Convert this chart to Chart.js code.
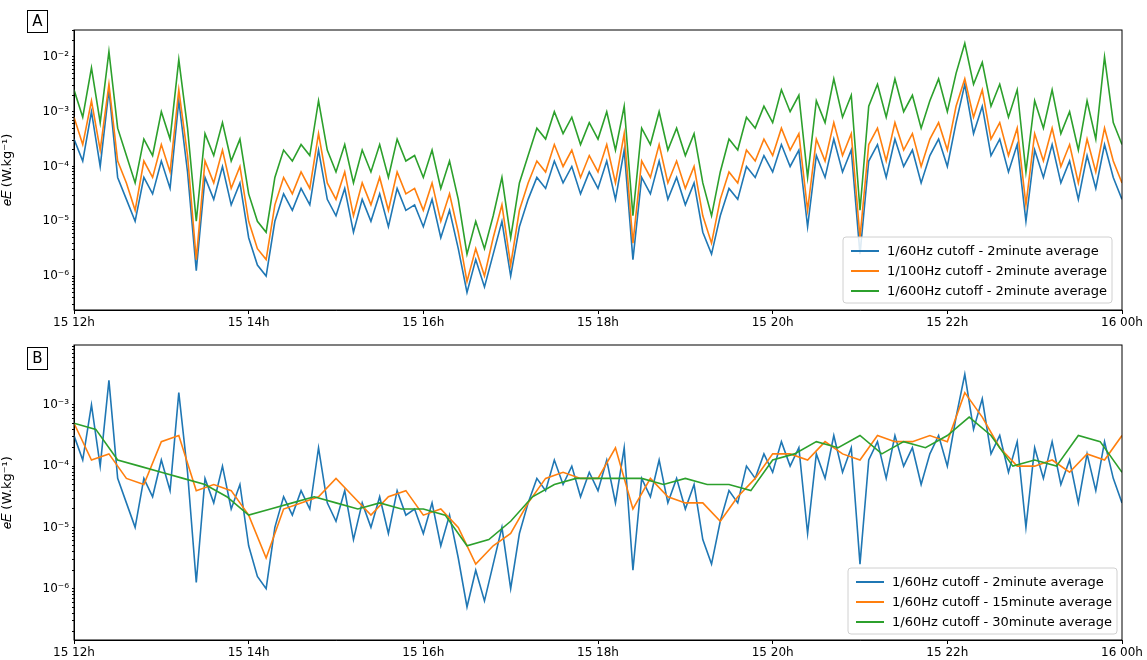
<!DOCTYPE html>
<html>
<head>
<meta charset="utf-8">
<script src="https://cdn.jsdelivr.net/npm/chart.js@4/dist/chart.umd.min.js"></script>
<style>
  body { margin: 0; background: #fff; }
  .panel { position: absolute; left: 0; width: 1147px; height: 330px; }
</style>
</head>
<body>
<div class="panel" style="top:0"><canvas id="chartA" width="1147" height="330"></canvas></div>
<div class="panel" style="top:330px"><canvas id="chartB" width="1147" height="330"></canvas></div>
<script>
// Hours of day (15 12h .. 16 00h)
const xTickHours = [12, 14, 16, 18, 20, 22, 24];
const xTickLabels = ['15 12h', '15 14h', '15 16h', '15 18h', '15 20h', '15 22h', '16 00h'];

// log10 of e_E, 2-minute series sampled every 0.1 h from 12h
const blue60Log = [
  -3.5,-3.9,-3.0,-4.0,-2.6,-4.2,-4.6,-5.0,-4.2,-4.5,
  -3.9,-4.4,-2.8,-4.1,-5.9,-4.2,-4.6,-4.0,-4.7,-4.3,
  -5.3,-5.8,-6.0,-5.0,-4.5,-4.8,-4.4,-4.7,-3.7,-4.6,
  -4.9,-4.4,-5.2,-4.6,-5.0,-4.5,-5.1,-4.4,-4.8,-4.7,
  -5.1,-4.6,-5.3,-4.8,-5.5,-6.3,-5.7,-6.2,-5.6,-5.0,
  -6.0,-5.1,-4.6,-4.2,-4.4,-3.9,-4.3,-4.0,-4.5,-4.1,
  -4.4,-3.9,-4.6,-3.7,-5.7,-4.2,-4.5,-3.9,-4.6,-4.2,
  -4.7,-4.3,-5.2,-5.6,-4.9,-4.4,-4.6,-4.0,-4.2,-3.8,
  -4.1,-3.6,-4.0,-3.7,-5.1,-3.8,-4.2,-3.5,-4.1,-3.7,
  -5.6,-3.9,-3.6,-4.2,-3.5,-4.0,-3.7,-4.3,-3.8,-3.5,
  -4.0,-3.2,-2.5,-3.4,-2.9,-3.8,-3.5,-4.1,-3.6,-5.0,
  -3.7,-4.2,-3.6,-4.3,-3.9,-4.6,-3.8,-4.4,-3.6,-4.2,
  -4.6
];
const orange100Log = [
  -3.1,-3.6,-2.8,-3.7,-2.5,-3.9,-4.3,-4.8,-3.9,-4.2,
  -3.6,-4.1,-2.6,-3.8,-5.7,-3.9,-4.3,-3.7,-4.4,-4.0,
  -5.0,-5.5,-5.7,-4.7,-4.2,-4.5,-4.1,-4.4,-3.4,-4.3,
  -4.6,-4.1,-4.9,-4.3,-4.7,-4.2,-4.8,-4.1,-4.5,-4.4,
  -4.8,-4.3,-5.0,-4.5,-5.2,-6.1,-5.5,-6.0,-5.3,-4.7,
  -5.8,-4.8,-4.3,-3.9,-4.1,-3.6,-4.0,-3.7,-4.2,-3.8,
  -4.1,-3.6,-4.3,-3.4,-5.4,-3.9,-4.2,-3.6,-4.3,-3.9,
  -4.4,-4.0,-4.9,-5.4,-4.6,-4.1,-4.3,-3.7,-3.9,-3.5,
  -3.8,-3.3,-3.7,-3.4,-4.8,-3.5,-3.9,-3.2,-3.8,-3.4,
  -5.3,-3.6,-3.3,-3.9,-3.2,-3.7,-3.4,-4.0,-3.5,-3.2,
  -3.7,-2.9,-2.4,-3.1,-2.6,-3.5,-3.2,-3.8,-3.3,-4.7,
  -3.4,-3.9,-3.3,-4.0,-3.6,-4.3,-3.5,-4.1,-3.3,-3.9,
  -4.3
];
const green600Log = [
  -2.6,-3.1,-2.2,-3.2,-1.9,-3.3,-3.8,-4.3,-3.5,-3.8,
  -3.0,-3.5,-2.05,-3.3,-5.0,-3.4,-3.8,-3.2,-3.9,-3.5,
  -4.5,-5.0,-5.2,-4.2,-3.7,-3.9,-3.6,-3.8,-2.8,-3.7,
  -4.1,-3.6,-4.3,-3.7,-4.1,-3.6,-4.2,-3.5,-3.9,-3.8,
  -4.2,-3.7,-4.4,-3.9,-4.6,-5.6,-5.0,-5.5,-4.9,-4.2,
  -5.3,-4.3,-3.8,-3.3,-3.5,-3.0,-3.4,-3.1,-3.6,-3.2,
  -3.5,-3.0,-3.7,-2.9,-4.9,-3.3,-3.6,-3.0,-3.7,-3.3,
  -3.8,-3.4,-4.3,-4.9,-4.1,-3.5,-3.7,-3.1,-3.3,-2.9,
  -3.2,-2.6,-3.0,-2.7,-4.2,-2.8,-3.2,-2.4,-3.1,-2.7,
  -4.8,-2.9,-2.5,-3.1,-2.4,-3.0,-2.7,-3.3,-2.8,-2.4,
  -3.0,-2.3,-1.75,-2.5,-2.1,-2.9,-2.5,-3.1,-2.6,-4.1,
  -2.8,-3.3,-2.6,-3.4,-3.0,-3.7,-2.8,-3.5,-2.0,-3.2,
  -3.6
];
// 15-minute average, every 0.2 h
const orange15Log = [
  -3.3,-3.9,-3.8,-4.2,-4.3,-3.6,-3.5,-4.4,-4.3,-4.4,
  -4.8,-5.5,-4.7,-4.6,-4.5,-4.2,-4.5,-4.8,-4.5,-4.4,
  -4.8,-4.7,-5.0,-5.6,-5.3,-5.1,-4.6,-4.2,-4.1,-4.2,
  -4.2,-3.7,-4.7,-4.2,-4.5,-4.6,-4.6,-4.9,-4.5,-4.2,
  -3.8,-3.8,-3.9,-3.6,-3.8,-3.9,-3.5,-3.6,-3.6,-3.5,
  -3.6,-2.8,-3.2,-3.7,-4.0,-4.0,-3.9,-4.1,-3.8,-3.9,
  -3.5
];
// 30-minute average, every 0.25 h
const green30Log = [
  -3.3,-3.4,-3.9,-4.0,-4.1,-4.2,-4.3,-4.5,-4.8,-4.7,
  -4.6,-4.5,-4.6,-4.7,-4.6,-4.7,-4.7,-4.8,-5.3,-5.2,
  -4.9,-4.5,-4.3,-4.2,-4.2,-4.2,-4.2,-4.3,-4.2,-4.3,
  -4.3,-4.4,-3.9,-3.8,-3.6,-3.7,-3.5,-3.8,-3.6,-3.7,
  -3.5,-3.2,-3.5,-4.0,-3.9,-4.0,-3.5,-3.6,-4.1
];

const BLUE = '#1f77b4', ORANGE = '#ff7f0e', GREEN = '#2ca02c';
const FONT = 'DejaVu Sans';

function toPoints(logs, step) {
    return logs.map((v, i) => ({ x: 12 + i * step, y: Math.pow(10, v) }));
}

const supers = { '-': '⁻', '0': '⁰', '1': '¹', '2': '²', '3': '³', '4': '⁴', '5': '⁵', '6': '⁶', '7': '⁷', '8': '⁸', '9': '⁹' };
function decadeLabel(v) {
    const e = Math.round(Math.log10(v));
    return '10' + String(e).split('').map(c => supers[c]).join('');
}

// frame, panel letter and legend box
const decorPlugin = {
    id: 'decor',
    afterDraw(chart, args, opts) {
        const ctx = chart.ctx, a = chart.chartArea;
        ctx.save();
        ctx.strokeStyle = '#000';
        ctx.lineWidth = 1;
        ctx.strokeRect(a.left, a.top, a.right - a.left, a.bottom - a.top);

        ctx.strokeRect(opts.letterBox[0] + 0.5, opts.letterBox[1] + 0.5, 20, 22);
        ctx.fillStyle = '#000';
        ctx.font = '15px ' + FONT;
        ctx.textAlign = 'center';
        ctx.textBaseline = 'middle';
        ctx.fillText(opts.letter, opts.letterBox[0] + 10.5, opts.letterBox[1] + 12);

        const [lx, ly, lw, lh] = opts.legendBox;
        ctx.fillStyle = 'rgba(255,255,255,0.85)';
        ctx.strokeStyle = '#d0d0d0';
        ctx.beginPath();
        ctx.roundRect(lx, ly, lw, lh, 3);
        ctx.fill();
        ctx.stroke();
        ctx.font = '13px ' + FONT;
        ctx.textAlign = 'left';
        chart.data.datasets.forEach((ds, i) => {
            const y = ly + 14 + i * 20;
            ctx.strokeStyle = ds.borderColor;
            ctx.lineWidth = 2;
            ctx.beginPath();
            ctx.moveTo(lx + 8, y);
            ctx.lineTo(lx + 36, y);
            ctx.stroke();
            ctx.fillStyle = '#000';
            ctx.fillText(ds.label, lx + 44, y + 1);
        });
        ctx.restore();
    }
};

function makeChart(id, datasets, yMin, yMax, padTop, letter, letterBox, legendBox) {
    return new Chart(document.getElementById(id), {
        type: 'line',
        data: { datasets },
        plugins: [decorPlugin],
        options: {
            responsive: false,
            animation: false,
            parsing: true,
            layout: { padding: { top: padTop, right: 25, left: 0, bottom: 0 } },
            elements: { point: { radius: 0 }, line: { borderWidth: 1.6, tension: 0 } },
            plugins: {
                legend: { display: false },
                tooltip: { enabled: false },
                decor: { letter, letterBox, legendBox }
            },
            scales: {
                x: {
                    type: 'linear', min: 12, max: 24,
                    afterBuildTicks: s => { s.ticks = xTickHours.map(v => ({ value: v })); },
                    afterFit: s => { s.height = 20; },
                    grid: { display: true, drawOnChartArea: false, tickLength: 4, color: '#000' },
                    border: { color: '#000' },
                    ticks: {
                        color: '#000', font: { family: FONT, size: 12 }, padding: 2, maxRotation: 0,
                        callback: v => xTickLabels[xTickHours.indexOf(v)]
                    }
                },
                y: {
                    type: 'logarithmic', min: yMin, max: yMax,
                    afterBuildTicks: s => {
                        const t = [];
                        for (let e = -7; e <= -1; e++) {
                            for (let m = 1; m < 10; m++) {
                                const v = m * Math.pow(10, e);
                                if (v >= yMin && v <= yMax) t.push({ value: v, major: m === 1 });
                            }
                        }
                        s.ticks = t;
                    },
                    afterFit: s => { s.width = 74; },
                    grid: {
                        display: true, drawOnChartArea: false, color: '#000',
                        tickLength: c => (c.tick && c.tick.major ? 4 : 2)
                    },
                    border: { color: '#000' },
                    title: {
                        display: true, text: '𝑒𝐸 (W.kg⁻¹)', color: '#000',
                        font: { family: FONT, size: 13 }, padding: 0
                    },
                    ticks: {
                        color: '#000', font: { family: FONT, size: 12 }, padding: 3, autoSkip: false,
                        callback: (v, i, ticks) => (ticks[i].major ? decadeLabel(v) : '')
                    }
                }
            }
        }
    });
}

makeChart('chartA', [
    { label: '1/60Hz cutoff - 2minute average', data: toPoints(blue60Log, 0.1), borderColor: BLUE, order: 2 },
    { label: '1/100Hz cutoff - 2minute average', data: toPoints(orange100Log, 0.1), borderColor: ORANGE, order: 1 },
    { label: '1/600Hz cutoff - 2minute average', data: toPoints(green600Log, 0.1), borderColor: GREEN, order: 0 }
], 2.4e-7, 3.1e-2, 30, 'A', [27, 10], [843, 237, 269, 66]);

makeChart('chartB', [
    { label: '1/60Hz cutoff - 2minute average', data: toPoints(blue60Log, 0.1), borderColor: BLUE, order: 2 },
    { label: '1/60Hz cutoff - 15minute average', data: toPoints(orange15Log, 0.2), borderColor: ORANGE, order: 1 },
    { label: '1/60Hz cutoff - 30minute average', data: toPoints(green30Log, 0.25), borderColor: GREEN, order: 0 }
], 1.45e-7, 9.5e-3, 15, 'B', [27, 17], [848, 238, 269, 66]);
</script>
</body>
</html>
